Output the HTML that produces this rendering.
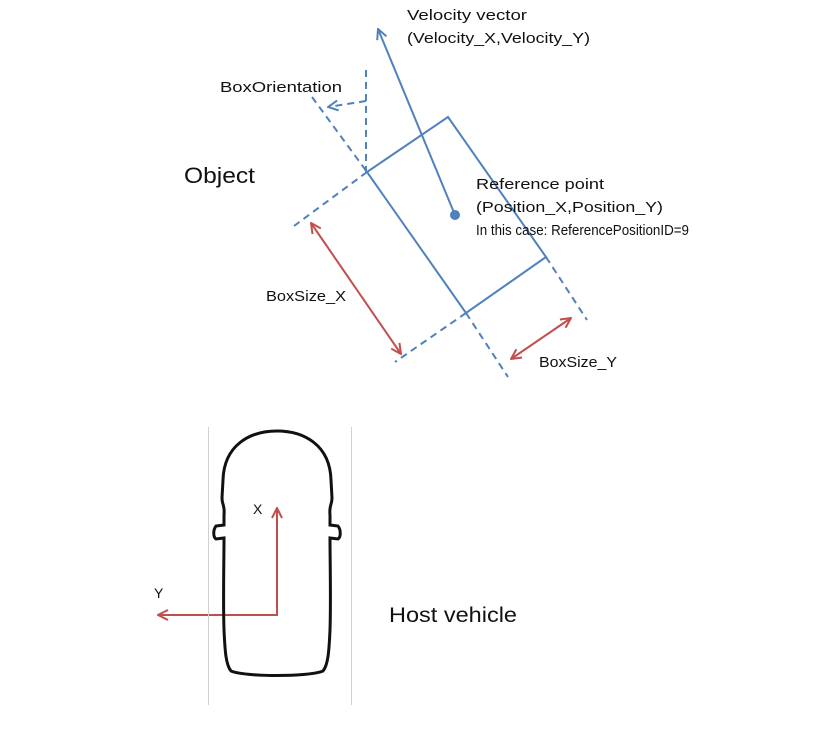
<!DOCTYPE html>
<html><head><meta charset="utf-8"><style>html,body{margin:0;padding:0;background:#fff}svg{display:block}</style></head>
<body>
<svg width="815" height="743" viewBox="0 0 815 743" xmlns="http://www.w3.org/2000/svg" font-family="Liberation Sans, sans-serif">
<defs>
<marker id="ab" markerWidth="12" markerHeight="12" refX="11" refY="6" orient="auto-start-reverse" markerUnits="userSpaceOnUse"><path d="M1,1 L11,6 L1,11" fill="none" stroke="#4f81bd" stroke-width="2"/></marker>
<marker id="ar" markerWidth="12" markerHeight="12" refX="11" refY="6" orient="auto-start-reverse" markerUnits="userSpaceOnUse"><path d="M1,1 L11,6 L1,11" fill="none" stroke="#c0504d" stroke-width="2"/></marker>
</defs>
<g stroke="#4f81bd" stroke-width="2" fill="none">
<polygon points="448,117 367,172 466,313 546,257"/>
<line x1="455" y1="215" x2="378" y2="29" marker-end="url(#ab)"/>
<g stroke-dasharray="7,5">
<line x1="366" y1="70" x2="366" y2="172"/>
<line x1="312" y1="97" x2="367" y2="172"/>
<line x1="466" y1="313" x2="508" y2="377"/>
<line x1="546" y1="257" x2="587" y2="320"/>
<line x1="367" y1="172" x2="294" y2="226"/>
<line x1="466" y1="313" x2="395" y2="362"/>
<path d="M366,101 L328,107" marker-end="url(#ab)"/>
</g>
</g>
<circle cx="455" cy="215" r="5" fill="#4f81bd"/>
<g stroke="#c0504d" stroke-width="2" fill="none">
<line x1="311" y1="223" x2="401" y2="354" marker-start="url(#ar)" marker-end="url(#ar)"/>
<line x1="511" y1="359" x2="571" y2="318" marker-start="url(#ar)" marker-end="url(#ar)"/>
<polyline points="277,508 277,615 158,615" marker-start="url(#ar)" marker-end="url(#ar)"/>
</g>
<g stroke="#d0d0d0" stroke-width="1">
<line x1="208.5" y1="427" x2="208.5" y2="705"/>
<line x1="351.5" y1="427" x2="351.5" y2="705"/>
</g>
<path d="M277,431 C250,431 224,445 223,480 L222,498 C222,505 225,505 224,515 L224,525 L216,526 C213,530 213,537 216,539 L224,538 C224,560 223,600 224,630 C225,652 226,665 231,671 C245,677 309,677 323,671 C328,665 329,652 330,630 C331,600 330,560 330,538 L338,539 C341,537 341,530 338,526 L330,525 L330,515 C329,505 332,505 332,498 L331,480 C330,445 304,431 277,431 Z" fill="none" stroke="#111" stroke-width="3"/>
<g fill="#111" font-size="15">
<text x="407" y="20" textLength="120" lengthAdjust="spacingAndGlyphs">Velocity vector</text>
<text x="407" y="43" textLength="183" lengthAdjust="spacingAndGlyphs">(Velocity_X,Velocity_Y)</text>
<text x="220" y="92" textLength="122" lengthAdjust="spacingAndGlyphs">BoxOrientation</text>
<text x="476" y="189" textLength="128" lengthAdjust="spacingAndGlyphs">Reference point</text>
<text x="476" y="212" textLength="187" lengthAdjust="spacingAndGlyphs">(Position_X,Position_Y)</text>
<text x="476" y="235" textLength="213" lengthAdjust="spacingAndGlyphs">In this case: ReferencePositionID=9</text>
<text x="266" y="301" textLength="80" lengthAdjust="spacingAndGlyphs">BoxSize_X</text>
<text x="539" y="367" textLength="78" lengthAdjust="spacingAndGlyphs">BoxSize_Y</text>
<text x="253" y="514" font-size="14">X</text>
<text x="154" y="598" font-size="14">Y</text>
<text x="184" y="183" font-size="22" textLength="71" lengthAdjust="spacingAndGlyphs">Object</text>
<text x="389" y="622" font-size="21" textLength="128" lengthAdjust="spacingAndGlyphs">Host vehicle</text>
</g>
</svg>
</body></html>
